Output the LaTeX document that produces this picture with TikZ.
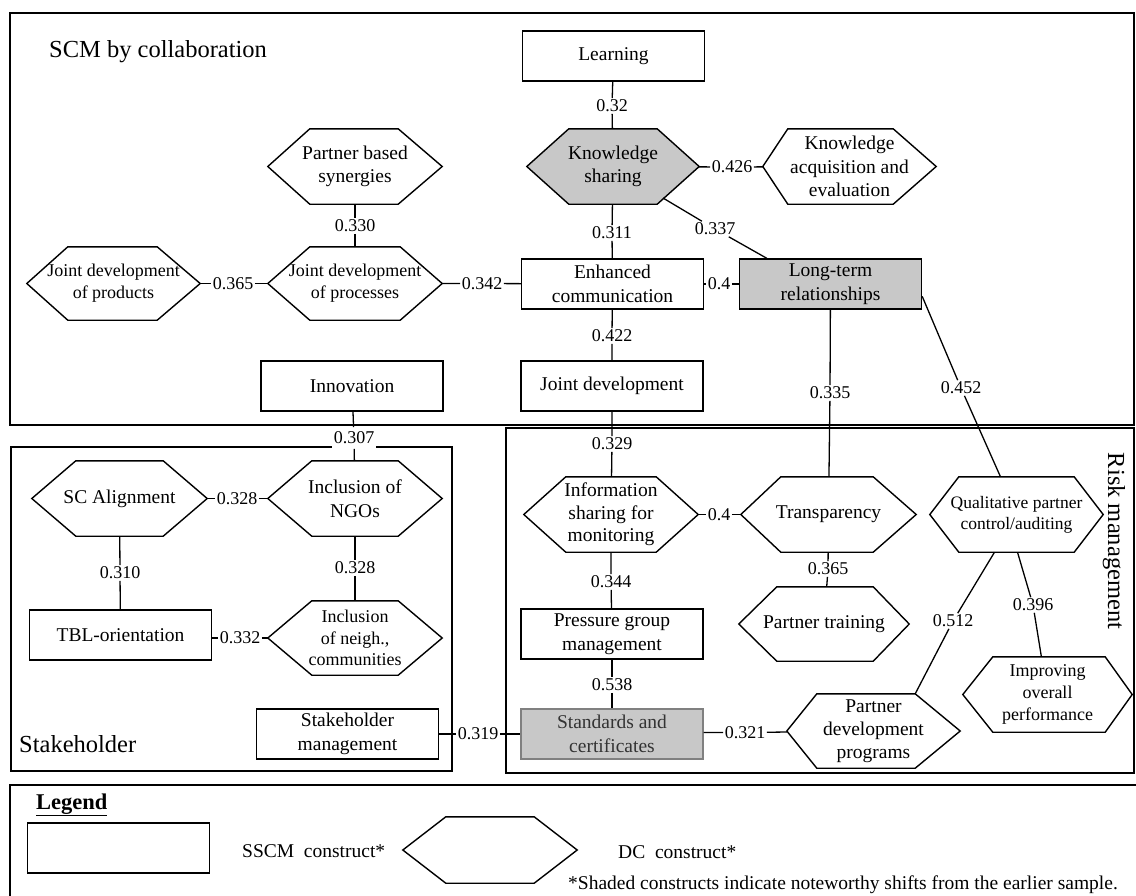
\documentclass[tikz,border=0pt]{standalone}
\usepackage{fontspec}
\setmainfont{Liberation Serif}
\usetikzlibrary{backgrounds,calc}

\definecolor{shade}{HTML}{C8C8C8}
\definecolor{shadeline}{HTML}{808080}
\definecolor{shadetext}{HTML}{333333}

\newcommand\ndfont{\fontsize{19.5}{23.5}\selectfont}
\newcommand\smfont{\fontsize{18}{22}\selectfont}
\newcommand\lbfont{\fontsize{18}{21}\selectfont}
\newcommand\ttlfont{\fontsize{24.5}{29}\selectfont}

% hexagon drawn round a rectangular node: [fill]{node}{left inset}{right inset}
\newcommand\hexaround[4][white]{%
  \begin{scope}[on background layer]
    \filldraw[fill=#1, shapeline]
      (#2.west) -- ([xshift=#3]#2.north west) -- ([xshift=-#4]#2.north east)
      -- (#2.east) -- ([xshift=-#4]#2.south east) -- ([xshift=#3]#2.south west) -- cycle;
  \end{scope}}

\tikzset{
  shapeline/.style={line width=1.4pt, line join=miter},
  box/.style={draw, shapeline, fill=white, minimum width=182pt, minimum height=50pt,
    inner sep=0pt, align=center, font=\ndfont},
  hexa/.style 2 args={minimum width=#1pt, minimum height=#2pt, inner sep=0pt,
    align=center, font=\ndfont},
  wt/.style={font=\lbfont, inner sep=1.5pt},
  conn/.style={line width=1.3pt},
  frame/.style={line width=1.4pt},
  title/.style={anchor=base west, font=\ttlfont, inner sep=0pt},
  legtext/.style={anchor=base west, font=\fontsize{19.5}{23}\selectfont, inner sep=0pt},
}

\begin{document}
\begin{tikzpicture}[x=1pt,y=-1pt]
\useasboundingbox (0,0) rectangle (1136,895);
\begin{scope}[on background layer]
  \fill[white] (0,0) rectangle (1136,895);
\end{scope}

% ---------- frames ----------
\draw[frame] (10,13) rectangle (1134,425);
\draw[frame] (11,447) rectangle (452,771);
\draw[frame] (506,428) rectangle (1134,773);
\draw[frame] (10,785) rectangle (1145,905);

\node[title] (tscm) at (49,57) {SCM by collaboration};
\node[title] (tstake) at (19,752) {Stakeholder};
\node[font=\ttlfont, rotate=-90, inner sep=0pt] (trisk) at (1114,541) {Risk management};

% ---------- SCM by collaboration ----------
\node[box] (learn) at (613.5,56) {Learning};
\node[hexa={172}{75}] (ks) at (613,166.5) {Knowledge\\sharing};
\hexaround[shade]{ks}{42}{42}
\node[hexa={173}{75}, font=\fontsize{19.5}{23.3}\selectfont] (kae) at (849.5,166.5)
  {Knowledge\\acquisition and\\evaluation};
\hexaround{kae}{25}{43}
\node[hexa={174}{75}] (pbs) at (355,166.5) {Partner based\\synergies};
\hexaround{pbs}{42}{44}
\node[hexa={174}{73}, font=\smfont] (jpp) at (355,283.5) {Joint development\\of processes};
\hexaround{jpp}{42}{42}
\node[hexa={173}{73}, font=\smfont] (jdp) at (113.5,283.5) {Joint development\\of products};
\hexaround{jdp}{41}{43}
\node[box] (ec) at (612.5,284) {Enhanced\\communication};
\node[box, fill=shade] (ltr) at (830.5,284) {Long-term\\relationships};
\node[box] (innov) at (352,386) {Innovation};
\node[box] (jd) at (612,386) {Joint development};

% ---------- Stakeholder ----------
\node[hexa={175}{75}] (scal) at (119.5,498.5) {SC Alignment};
\hexaround{scal}{44}{44}
\node[hexa={174}{75}] (ngo) at (355,498.5) {Inclusion of\\NGOs};
\hexaround{ngo}{44}{44}
\node[box] (tbl) at (120.5,635) {TBL-orientation};
\node[hexa={174}{74}, font=\fontsize{18}{21.5}\selectfont] (neigh) at (355,638)
  {Inclusion\\of neigh.,\\communities};
\hexaround{neigh}{44}{44}
\node[box] (sm) at (347.5,734) {Stakeholder\\management};

% ---------- Risk management ----------
\node[hexa={174}{75}, font=\fontsize{19.5}{22.5}\selectfont] (is) at (611,514.5)
  {Information\\sharing for\\monitoring};
\hexaround{is}{42}{42}
\node[hexa={175}{75}] (tr) at (828.5,514.5) {Transparency};
\hexaround{tr}{40}{43}
\node[hexa={173}{75}, font=\fontsize{17.5}{21}\selectfont] (qual) at (1016.5,514.5)
  {Qualitative partner\\control/auditing};
\hexaround{qual}{29}{29}
\node[hexa={170}{74}] (pt) at (824,624) {Partner training};
\hexaround{pt}{38}{36}
\node[box] (pgm) at (612,634) {Pressure group\\management};
\node[box, fill=shade, draw=shadeline, text=shadetext] (sc) at (612,734)
  {Standards and\\certificates};
\node[hexa={169}{75}, font=\smfont] (imp) at (1047.5,694.5)
  {Improving\\overall\\performance};
\hexaround{imp}{30}{27}
\node[hexa={173}{74}, font=\fontsize{19.5}{23}\selectfont] (pd) at (873.5,731)
  {Partner\\development\\programs};
\hexaround{pd}{30}{45}

% ---------- weights ----------
\node[wt] (l32)   at (612,106) {0.32};
\node[wt] (l311)  at (612,233) {0.311};
\node[wt] (l426)  at (732,167) {0.426};
\node[wt] (l337)  at (715,229) {0.337};
\node[wt] (l330)  at (355,226) {0.330};
\node[wt] (l365a) at (233,283.5) {0.365};
\node[wt] (l342)  at (482,283.5) {0.342};
\node[wt] (l4a)   at (719,284) {0.4};
\node[wt] (l422)  at (612,336) {0.422};
\node[wt] (l335)  at (830,393) {0.335};
\node[wt] (l452)  at (961,388) {0.452};
\node[wt] (l329)  at (612,444) {0.329};
\node[wt, fill=white, inner ysep=4.5pt] (l307) at (354,438) {0.307};
\node[wt] (l328a) at (237,498.5) {0.328};
\node[wt] (l310)  at (120,573) {0.310};
\node[wt] (l328b) at (355,568) {0.328};
\node[wt] (l332)  at (240,638) {0.332};
\node[wt] (l4b)   at (719,514.5) {0.4};
\node[wt] (l344)  at (611,582) {0.344};
\node[wt] (l365b) at (828,569) {0.365};
\node[wt] (l538)  at (612,685) {0.538};
\node[wt] (l319)  at (478,734) {0.319};
\node[wt] (l321)  at (745,732.5) {0.321};
\node[wt] (l512)  at (953,621) {0.512};
\node[wt] (l396)  at (1033,605) {0.396};

% ---------- connectors ----------
\draw[conn] (learn) -- (l32) -- (ks);
\draw[conn] (ks) -- (l311) -- (ec);
\draw[conn] (ks) -- (l426) -- (kae);
\draw[conn] ($(ks.center)+(50,31.5)$) -- (l337) -- ($(ltr.north west)+(28,0)$);
\draw[conn] (pbs) -- (l330) -- (jpp);
\draw[conn] (jdp) -- (l365a) -- (jpp);
\draw[conn] (jpp) -- (l342) -- (ec);
\draw[conn] (ec) -- (l4a) -- (ltr);
\draw[conn] (ec) -- (l422) -- (jd);
\draw[conn] (ltr) -- (l335) -- (tr);
\draw[conn] ($(ltr.north east)+(0,38)$) -- (l452) -- ($(qual.north)+(-16,0)$);
\draw[conn] (jd) -- (l329) -- (is);
\draw[conn] (innov) -- (l307) -- (ngo);
\draw[conn] (scal) -- (l328a) -- (ngo);
\draw[conn] (scal) -- (l310) -- (tbl);
\draw[conn] (ngo) -- (l328b) -- (neigh);
\draw[conn] (l332.west -| tbl.east) -- (l332) -- (neigh);
\draw[conn] (is) -- (l4b) -- (tr);
\draw[conn] (is) -- (l344) -- (pgm);
\draw[conn] (tr) -- (l365b) -- (pt);
\draw[conn] (pgm) -- (l538) -- (sc);
\draw[conn] (sm) -- (l319) -- (sc);
\draw[conn] (l321.west -| sc.east) -- (l321) -- (pd);
\draw[conn] ($(qual.south)+(-22,0)$) -- (l512) -- ($(pd.north east)+(-45,0)$);
\draw[conn] ($(qual.south)+(1,0)$) -- (l396) -- (imp);

% ---------- legend ----------
\node[anchor=base west, inner sep=0pt, font=\bfseries\fontsize{22.5}{26}\selectfont]
  (leg) at (36,809) {\underline{Legend}};
\node[box] (lrect) at (118.5,848) {};
\node[legtext] (lsscm) at (242,857) {SSCM\ \ construct*};
\node[hexa={174}{66}] (lhex) at (490,850) {};
\hexaround{lhex}{43}{43}
\node[legtext] (ldc) at (618,858) {DC\ \ construct*};
\node[legtext] (lnote) at (568,889)
  {*Shaded constructs indicate noteworthy shifts from the earlier sample.};
\end{tikzpicture}
\end{document}
